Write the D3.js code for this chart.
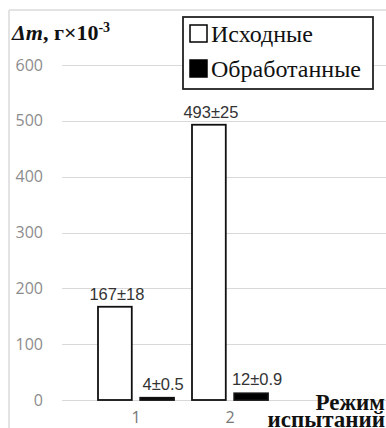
<!DOCTYPE html>
<html>
<head>
<meta charset="utf-8">
<script src="https://cdn.jsdelivr.net/npm/d3@7"></script>
<style>
  html, body { margin: 0; padding: 0; background: #fff; }
  svg { display: block; }
</style>
</head>
<body>
<svg id="chart" width="386" height="428"></svg>
<script>
// Mass loss by test mode, original vs treated samples
const categories = ["1", "2"];
const seriesNames = ["Исходные", "Обработанные"];
const originalValues = [167, 493];
const treatedValues = [4, 12];
const valueLabels = [["167±18", "4±0.5"], ["493±25", "12±0.9"]];
const yTicks = [0, 100, 200, 300, 400, 500, 600];

const svg = d3.select("#chart");
const W = 386, H = 428;

// chart frame (light border on top and left)
svg.append("line").attr("x1", 9).attr("x2", W).attr("y1", 10).attr("y2", 10)
  .attr("stroke", "#e3e3e3").attr("stroke-width", 2);
svg.append("line").attr("x1", 9).attr("x2", 9).attr("y1", 10).attr("y2", H)
  .attr("stroke", "#e3e3e3").attr("stroke-width", 2);

const y = d3.scaleLinear().domain([0, 600]).range([400, 65]);
const x0 = d3.scaleBand().domain(categories).range([89, 277]).padding(0);
const x1 = d3.scaleBand().domain(seriesNames).range([9, 85]).paddingInner(0.2);

// gridlines
svg.append("g").selectAll("line").data(yTicks).join("line")
  .attr("x1", 62).attr("x2", W)
  .attr("y1", d => Math.round(y(d)) + 0.5).attr("y2", d => Math.round(y(d)) + 0.5)
  .attr("stroke", "#d9d9d9").attr("stroke-width", 1.2);

// y axis tick labels
const yAxis = d3.axisLeft(y).tickValues(yTicks).tickSize(0).tickPadding(0);
const gy = svg.append("g").attr("transform", "translate(43,0)").call(yAxis);
gy.select(".domain").remove();
gy.selectAll("text")
  .attr("font-family", "'Open Sans', sans-serif").attr("font-size", 16)
  .attr("fill", "#8c8c8c");

// x axis category labels
const xAxis = d3.axisBottom(x0).tickSize(0).tickPadding(0);
const gx = svg.append("g").attr("transform", "translate(0,423)").call(xAxis);
gx.select(".domain").remove();
gx.selectAll("text")
  .attr("font-family", "'Open Sans', sans-serif").attr("font-size", 16)
  .attr("fill", "#777").attr("dy", null);

// bars
const rows = categories.map((c, i) => ({
  cat: c,
  vals: [
    { s: seriesNames[0], v: originalValues[i], label: valueLabels[i][0] },
    { s: seriesNames[1], v: treatedValues[i], label: valueLabels[i][1] }
  ]
}));

const groups = svg.append("g").selectAll("g").data(rows).join("g")
  .attr("transform", d => `translate(${x0(d.cat)},0)`);

groups.selectAll("rect").data(d => d.vals).join("rect")
  .attr("x", d => x1(d.s))
  .attr("y", d => y(d.v))
  .attr("width", x1.bandwidth())
  .attr("height", d => y(0) - y(d.v))
  .attr("fill", d => d.s === seriesNames[0] ? "#fff" : "#000")
  .attr("stroke", "#111")
  .attr("stroke-width", 1.8);

groups.selectAll("text").data(d => d.vals).join("text")
  .attr("x", d => x1(d.s) + x1.bandwidth() / 2 + (d.s === seriesNames[0] ? 2 : 6))
  .attr("y", d => y(d.v) - (d.s === seriesNames[0] ? 7 : 8))
  .attr("text-anchor", "middle")
  .attr("font-family", "'Liberation Sans', sans-serif")
  .attr("font-size", 16.5)
  .attr("fill", "#333")
  .text(d => d.label);

// y axis title
const title = svg.append("text").attr("x", 12).attr("y", 40)
  .attr("font-family", "'Liberation Serif', serif").attr("font-weight", "bold")
  .attr("font-size", 22).attr("fill", "#111");
title.append("tspan").attr("font-style", "italic").text("Δm");
title.append("tspan").text(", г×10");
title.append("tspan").attr("font-size", 14).attr("dy", -8).text("-3");

// legend
const legend = svg.append("g");
legend.append("rect").attr("x", 183).attr("y", 17).attr("width", 190).attr("height", 72)
  .attr("fill", "#fff").attr("stroke", "#222").attr("stroke-width", 1.8);
seriesNames.forEach((s, i) => {
  const base = 42 + i * 35;
  legend.append("rect").attr("x", 190).attr("y", base - 17).attr("width", 17).attr("height", 17)
    .attr("fill", i === 0 ? "#fff" : "#000").attr("stroke", "#000").attr("stroke-width", 1.5);
  legend.append("text").attr("x", 211).attr("y", base)
    .attr("font-family", "'Liberation Serif', serif").attr("font-size", 24)
    .attr("fill", "#111").text(s);
});

// x axis title
const xt = svg.append("text").attr("text-anchor", "end")
  .attr("font-family", "'Liberation Serif', serif").attr("font-weight", "bold")
  .attr("font-size", 23).attr("fill", "#111");
xt.append("tspan").attr("x", 385).attr("y", 410).text("Режим");
xt.append("tspan").attr("x", 385).attr("y", 427).text("испытаний");
</script>
</body>
</html>
